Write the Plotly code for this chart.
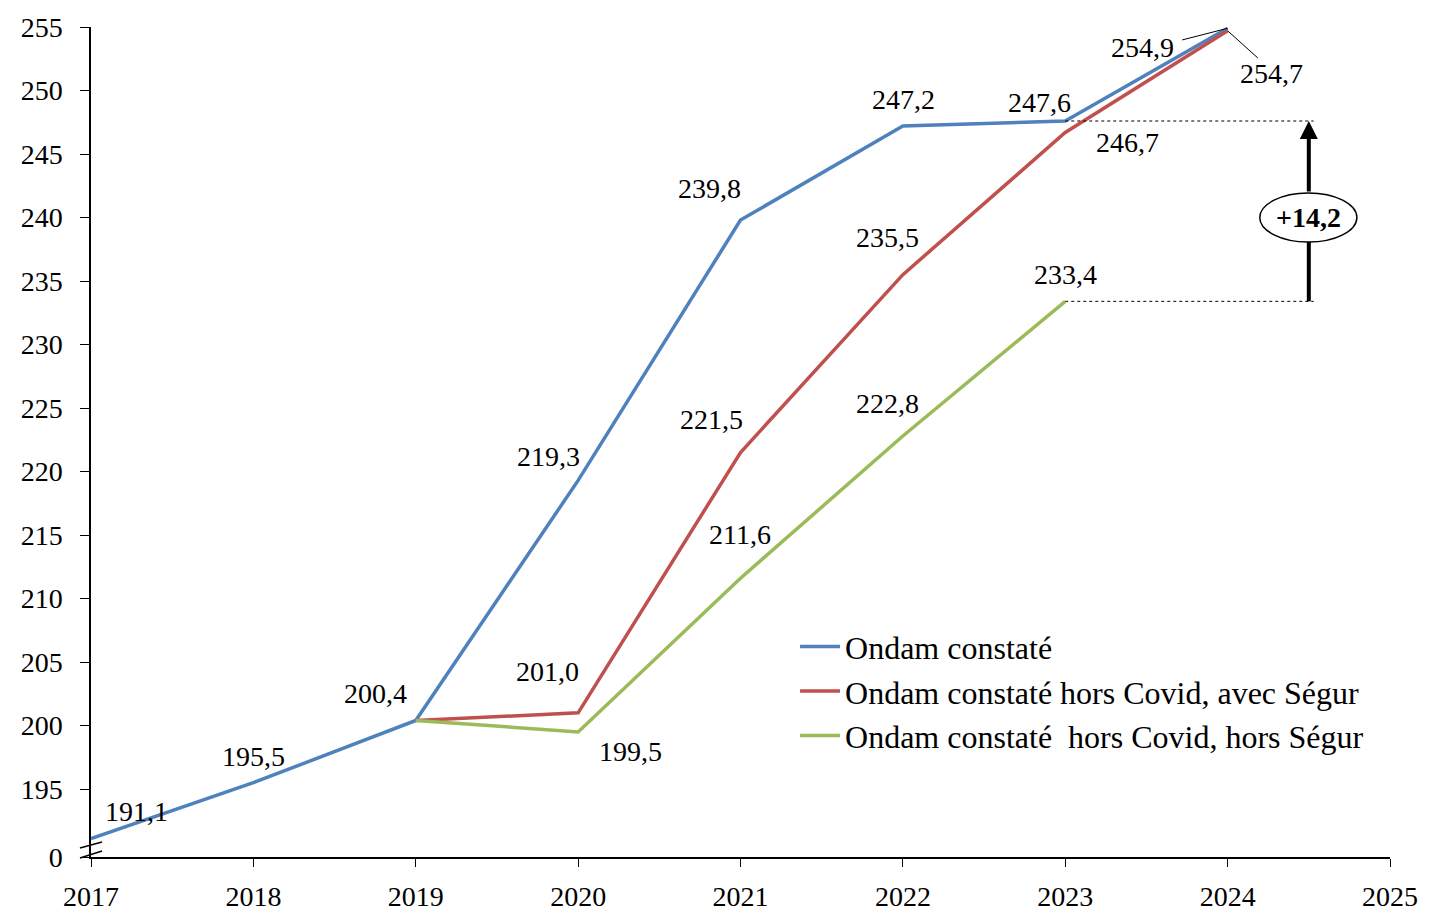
import plotly.graph_objects as go

years_blue = [2017, 2018, 2019, 2020, 2021, 2022, 2023, 2024]
ondam = [191.1, 195.5, 200.4, 219.3, 239.8, 247.2, 247.6, 254.9]
years_red = [2019, 2020, 2021, 2022, 2023, 2024]
hors_covid_avec_segur = [200.4, 201.0, 221.5, 235.5, 246.7, 254.7]
years_green = [2019, 2020, 2021, 2022, 2023]
hors_covid_hors_segur = [200.4, 199.5, 211.6, 222.8, 233.4]

names = ["Ondam constaté", "Ondam constaté hors Covid, avec Ségur",
         "Ondam constaté  hors Covid, hors Ségur"]
colors = ["#4F81BD", "#C0504D", "#9BBB59"]

y_ticks = [195, 200, 205, 210, 215, 220, 225, 230, 235, 240, 245, 250, 255]
y_bottom = 189.65
x_ticks = list(range(2017, 2026))

FONT = "Liberation Serif"
FS = 28

fig = go.Figure()
for xs, ys, nm, c in [(years_blue, ondam, names[0], colors[0]),
                      (years_red, hors_covid_avec_segur, names[1], colors[1]),
                      (years_green, hors_covid_hors_segur, names[2], colors[2])]:
    fig.add_trace(go.Scatter(x=xs, y=ys, mode="lines", name=nm,
                             line=dict(color=c, width=3.5), cliponaxis=False))

def fmt(v):
    return f"{v:.1f}".replace(".", ",")

# label positions (data coordinates of label centres)
labels = [
    (ondam[0], 2017.28, 193.2),
    (ondam[1], 2018.0, 197.6),
    (ondam[2], 2018.755, 202.56),
    (ondam[3], 2019.82, 221.22),
    (hors_covid_avec_segur[1], 2019.81, 204.29),
    (hors_covid_hors_segur[1], 2020.32, 197.99),
    (ondam[4], 2020.81, 242.32),
    (hors_covid_avec_segur[2], 2020.824, 224.06),
    (hors_covid_hors_segur[2], 2020.996, 215.08),
    (ondam[5], 2022.006, 249.33),
    (hors_covid_avec_segur[3], 2021.908, 238.39),
    (hors_covid_hors_segur[3], 2021.908, 225.39),
    (ondam[6], 2022.844, 249.09),
    (hors_covid_avec_segur[4], 2023.386, 245.87),
    (hors_covid_hors_segur[4], 2023.004, 235.55),
    (ondam[7], 2023.478, 253.35),
    (hors_covid_avec_segur[5], 2024.272, 251.3),
]
for v, x, y in labels:
    fig.add_annotation(x=x, y=y, text=fmt(v), showarrow=False,
                       font=dict(family=FONT, size=FS, color="black"))

# leader lines
fig.add_shape(type="line", x0=2023.72, y0=253.98, x1=years_blue[-1], y1=ondam[-1],
              line=dict(color="black", width=1))
fig.add_shape(type="line", x0=years_red[-1], y0=hors_covid_avec_segur[-1], x1=2024.186, y1=252.56,
              line=dict(color="black", width=1))

# dashed reference lines
x_arrow = 2024.5
for v in [ondam[6], hors_covid_hors_segur[4]]:
    fig.add_shape(type="line", x0=2023, y0=v, x1=2024.53, y1=v,
                  line=dict(color="black", width=1, dash="3px,3px"))

# ellipse and arrow
ell_y0, ell_y1 = 238.07, 241.93
fig.add_shape(type="line", x0=x_arrow, x1=x_arrow, y0=hors_covid_hors_segur[4], y1=ell_y0,
              line=dict(color="black", width=4))
fig.add_annotation(x=x_arrow, y=ondam[6], ax=x_arrow, ay=ell_y1, axref="x", ayref="y",
                   xref="x", yref="y", showarrow=True, arrowhead=2, arrowsize=0.9,
                   arrowwidth=4, arrowcolor="black", text="")
fig.add_shape(type="circle", x0=2024.198, x1=2024.796, y0=ell_y0, y1=ell_y1,
              line=dict(color="black", width=1.5), fillcolor="white")
diff = ondam[6] - hors_covid_hors_segur[4]
fig.add_annotation(x=x_arrow, y=(ell_y0 + ell_y1) / 2, text="<b>+" + fmt(diff) + "</b>",
                   showarrow=False, font=dict(family=FONT, size=FS, color="black"))

# axis break marks
for y0, y1 in [(0.0108, 0.0181), (-0.0012, 0.0072)]:
    fig.add_shape(type="line", xref="paper", yref="paper", x0=-0.0085, x1=0.0085,
                  y0=y0, y1=y1, line=dict(color="black", width=1.5))

fig.update_layout(
    width=1431, height=905,
    margin=dict(l=83, r=49, t=19, b=56, autoexpand=False),
    plot_bgcolor="white", paper_bgcolor="white",
    font=dict(family=FONT, size=FS, color="black"),
    showlegend=True,
    legend=dict(x=0.542, y=0.2866, xanchor="left", yanchor="top",
                bgcolor="rgba(0,0,0,0)", font=dict(family=FONT, size=32),
                tracegroupgap=0, itemwidth=40),
    xaxis=dict(range=[2017, 2025], tickvals=x_ticks, ticktext=[str(t) for t in x_ticks],
               showgrid=False, zeroline=False, showline=True, linecolor="black",
               linewidth=1.5, ticks="outside", ticklen=8, tickcolor="black",
               automargin=False, ticklabelstandoff=6),
    yaxis=dict(range=[y_bottom, 255], tickvals=[y_bottom] + y_ticks,
               ticktext=["0"] + [str(t) for t in y_ticks],
               showgrid=False, zeroline=False, showline=True, linecolor="black",
               linewidth=1.5, ticks="outside", ticklen=9, tickcolor="black",
               automargin=False, ticklabelstandoff=12),
)

fig.write_html("out.html")
